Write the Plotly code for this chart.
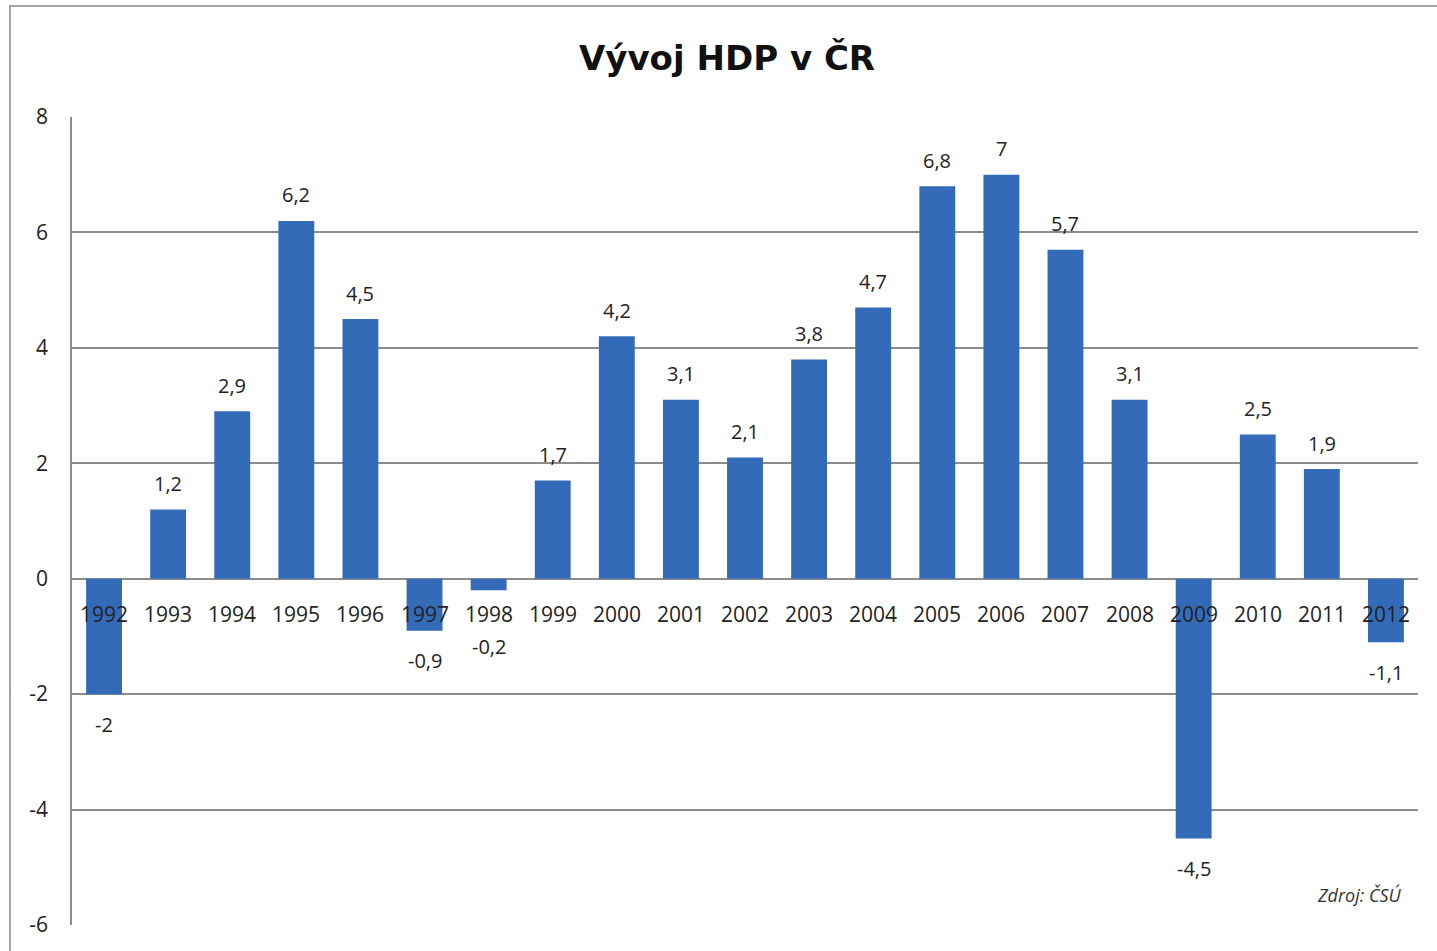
import plotly.graph_objects as go

years = ["1992", "1993", "1994", "1995", "1996", "1997", "1998", "1999", "2000", "2001", "2002",
         "2003", "2004", "2005", "2006", "2007", "2008", "2009", "2010", "2011", "2012"]
gdp = [-2, 1.2, 2.9, 6.2, 4.5, -0.9, -0.2, 1.7, 4.2, 3.1, 2.1,
       3.8, 4.7, 6.8, 7, 5.7, 3.1, -4.5, 2.5, 1.9, -1.1]
y_ticks = [-6, -4, -2, 0, 2, 4, 6, 8]
y_ticktext = ["-6", "-4", "-2", "0", "2", "4", "6", "8"]
title_text = "Vývoj HDP v ČR"
source_text = "Zdroj: ČSÚ"

labels = [("%g" % v).replace(".", ",") for v in gdp]

W, H = 1437, 951
L, R, T, B = 72, 19, 117, 26
pw, ph = W - L - R, H - T - B
px_per_unit = ph / (y_ticks[-1] - y_ticks[0])

FONT = "Open Sans"

fig = go.Figure()
fig.add_trace(go.Bar(
    x=years, y=gdp,
    marker=dict(color="#346bb9", line=dict(width=0)),
    hoverinfo="x+y",
))

# category labels sitting just below the zero line
for i, yr in enumerate(years):
    fig.add_annotation(x=i, y=0, xref="x", yref="y", text=yr, showarrow=False,
                       yanchor="middle", yshift=-35,
                       font=dict(family=FONT, size=21, color="#222"))

# data labels
for i, (v, lab) in enumerate(zip(gdp, labels)):
    if v >= 0:
        shift = 26
    else:
        shift = -max(30, 68 - abs(v) * px_per_unit)
    fig.add_annotation(x=i, y=v, xref="x", yref="y", text=lab, showarrow=False,
                       yanchor="middle", yshift=shift,
                       font=dict(family=FONT, size=20, color="#222"))

fig.add_annotation(x=(1404 - L) / pw, y=(H - B - 895) / ph, xref="paper", yref="paper",
                   text="<i>" + source_text + "</i>", showarrow=False,
                   xanchor="right", yanchor="middle",
                   font=dict(family=FONT, size=18, color="#333"))

# outer chart border
fig.add_shape(type="rect", xref="paper", yref="paper",
              x0=(10 - L) / pw, x1=(W + 5 - L) / pw,
              y0=(H - B - (H + 5)) / ph, y1=(H - B - 6) / ph,
              line=dict(color="#a6a6a6", width=2), layer="below")

fig.update_layout(
    width=W, height=H,
    margin=dict(l=L, r=R, t=T, b=B),
    paper_bgcolor="white", plot_bgcolor="white",
    title=dict(text="<b>" + title_text + "</b>", x=(727 - L) / pw, xanchor="center",
               xref="paper", y=1 - 58 / H, yanchor="middle",
               font=dict(family="DejaVu Sans", size=34, color="#111")),
    bargap=0.44,
    showlegend=False,
    xaxis=dict(type="category", categoryorder="array", categoryarray=years,
               range=[-0.5, len(years) - 0.5],
               showticklabels=False, showgrid=False, zeroline=False, showline=False,
               ticks=""),
    yaxis=dict(range=[y_ticks[0], y_ticks[-1]], tickvals=y_ticks, ticktext=y_ticktext,
               showgrid=True, gridcolor="#8c8c8c",
               gridwidth=1.5, zeroline=True, zerolinecolor="#8c8c8c", zerolinewidth=1.5,
               showline=True, linecolor="#8c8c8c", linewidth=1.5,
               ticks="", ticklabelstandoff=18,
               tickfont=dict(family=FONT, size=21, color="#222")),
)

fig.write_html("out.html", post_script="document.body.style.margin='0';",
               config={"displayModeBar": False})
